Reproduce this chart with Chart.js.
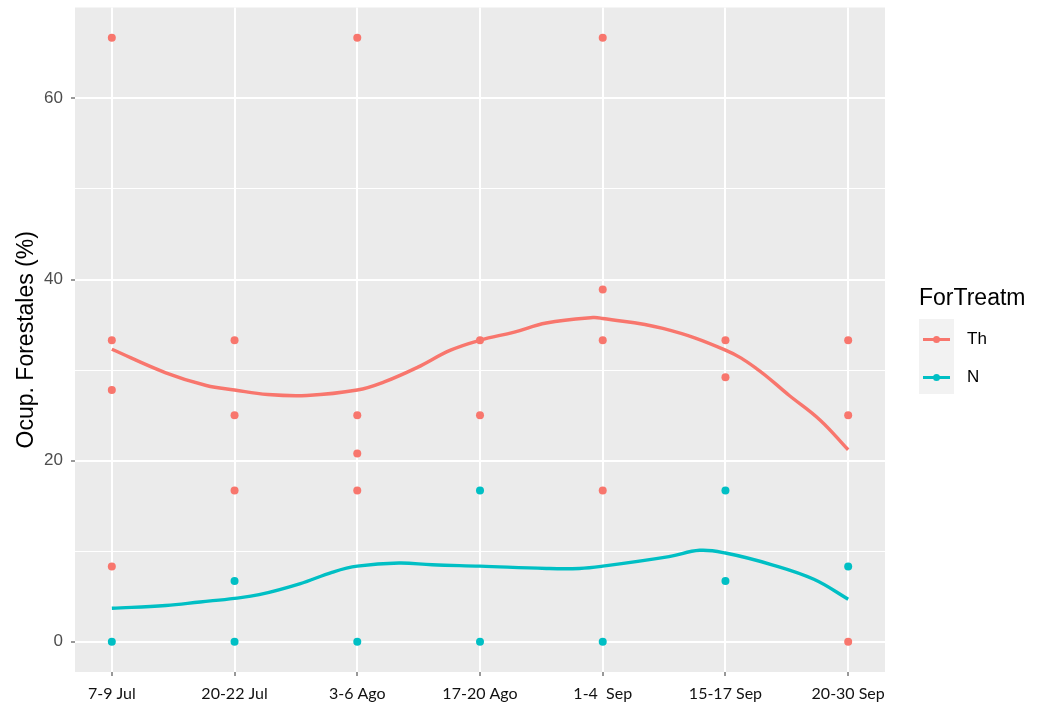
<!DOCTYPE html>
<html>
<head>
<meta charset="utf-8">
<script src="https://cdn.jsdelivr.net/npm/chart.js@4.4.0/dist/chart.umd.min.js"></script>
<style>
  html, body { margin: 0; padding: 0; background: #ffffff; }
  #wrap { position: relative; width: 1042px; height: 705px; }
  #c { position: absolute; left: 0; top: 0; }
  .lg { position: absolute; font-family: "Liberation Sans", Arial, sans-serif; color: #000; white-space: nowrap; }
  #lgTitle { left: 919px; top: 284px; font-size: 23px; line-height: 27px; }
  #lgBox { position: absolute; left: 919px; top: 319px; width: 35px; height: 75px; background: #F2F2F2; }
  .key { position: absolute; left: 4px; width: 27px; height: 3px; }
  .dot { position: absolute; left: 10px; width: 7px; height: 7px; border-radius: 50%; top: -2px; }
  .lab { font-size: 17px; line-height: 20px; left: 967px; }
</style>
</head>
<body>
<div id="wrap">
  <canvas id="c" width="1042" height="705"></canvas>
  <div class="lg" id="lgTitle">ForTreatm</div>
  <div id="lgBox">
    <div class="key" style="top:19px;background:#F8766D"><div class="dot" style="background:#F8766D"></div></div>
    <div class="key" style="top:57px;background:#00BFC4"><div class="dot" style="background:#00BFC4"></div></div>
  </div>
  <div class="lg lab" style="top:329px">Th</div>
  <div class="lg lab" style="top:367px">N</div>
</div>
<script>
// ---- data ----
const categories = ["7-9 Jul", "20-22 Jul", "3-6 Ago", "17-20 Ago", "1-4  Sep", "15-17 Sep", "20-30 Sep"];
const yTicks = [0, 10, 20, 30, 40, 50, 60];
const yMajor = [0, 20, 40, 60];

// observed points: [category index (1-based), value]
const thPoints = [
  [1, 66.7], [1, 33.3], [1, 27.8], [1, 8.3],
  [2, 33.3], [2, 25.0], [2, 16.7],
  [3, 66.7], [3, 25.0], [3, 20.8], [3, 16.7],
  [4, 33.3], [4, 25.0],
  [5, 66.7], [5, 38.9], [5, 33.3], [5, 16.7],
  [6, 33.3], [6, 29.2],
  [7, 33.3], [7, 25.0], [7, 0]
];
const nPoints = [
  [1, 0],
  [2, 6.7], [2, 0],
  [3, 0],
  [4, 16.7], [4, 0],
  [5, 0],
  [6, 16.7], [6, 6.7],
  [7, 8.3]
];

// smoothed trend: [position, value]
const thSmooth = [
  [1, 32.3], [1.44, 29.7], [1.77, 28.3], [2, 27.8], [2.27, 27.3], [2.59, 27.2],
  [3, 27.8], [3.22, 28.7], [3.49, 30.3], [3.76, 32.2], [4, 33.3], [4.28, 34.2],
  [4.54, 35.2], [4.92, 35.8], [5, 35.7], [5.49, 34.6], [6, 32.2], [6.25, 30.2],
  [6.52, 27.2], [6.77, 24.5], [7, 21.2]
];
const nSmooth = [
  [1, 3.7], [1.44, 4.0], [1.72, 4.4], [2, 4.8], [2.2, 5.2], [2.53, 6.4], [2.8, 7.7],
  [3, 8.35], [3.34, 8.7], [3.61, 8.5], [4, 8.35], [4.54, 8.1], [4.81, 8.1], [5, 8.35],
  [5.54, 9.4], [5.79, 10.1], [6, 9.8], [6.38, 8.5], [6.72, 6.9], [7, 4.7]
];

const TH = "#F8766D", NC = "#00BFC4";
const toXY = a => a.map(p => ({ x: p[0], y: p[1] }));

const panelBg = {
  id: "panelBg",
  beforeDraw(chart) {
    const { ctx, chartArea: a } = chart;
    ctx.save();
    ctx.fillStyle = "#EBEBEB";
    ctx.fillRect(a.left, a.top, a.right - a.left, a.bottom - a.top);
    ctx.restore();
  }
};

new Chart(document.getElementById("c"), {
  data: {
    datasets: [
      { type: "line", data: toXY(thSmooth), borderColor: TH, borderWidth: 3.4, pointRadius: 0, tension: 0.4, fill: false, order: 0 },
      { type: "line", data: toXY(nSmooth), borderColor: NC, borderWidth: 3.4, pointRadius: 0, tension: 0.4, fill: false, order: 0 },
      { type: "scatter", data: toXY(thPoints), backgroundColor: TH, borderColor: TH, borderWidth: 0, pointRadius: 4, order: 1 },
      { type: "scatter", data: toXY(nPoints), backgroundColor: NC, borderColor: NC, borderWidth: 0, pointRadius: 4, order: 1 }
    ]
  },
  options: {
    responsive: false,
    animation: false,
    events: [],
    layout: { padding: { top: 7.5, right: 157, left: 0, bottom: 0 } },
    plugins: { legend: { display: false }, tooltip: { enabled: false } },
    scales: {
      x: {
        type: "linear",
        min: 0.7, max: 7.3,
        afterBuildTicks: s => { s.ticks = categories.map((c, i) => ({ value: i + 1 })); },
        afterFit: s => { s.height = 33; s.paddingLeft = 0; s.paddingRight = 0; },
        border: { display: false },
        grid: { color: "#FFFFFF", lineWidth: 2, drawTicks: true, tickLength: 4, tickColor: "#333333", tickWidth: 1 },
        ticks: {
          autoSkip: false, maxRotation: 0, padding: 8,
          color: "#111111",
          font: { family: "Lato, 'Open Sans', sans-serif", size: 16 },
          callback: v => categories[Math.round(v) - 1]
        }
      },
      y: {
        type: "linear",
        min: -3.335, max: 70.035,
        afterBuildTicks: s => { s.ticks = yTicks.map(v => ({ value: v })); },
        afterFit: s => { s.width = 75; s.paddingTop = 0; s.paddingBottom = 0; },
        border: { display: false },
        grid: {
          color: "#FFFFFF",
          lineWidth: c => yMajor.includes(c.tick && c.tick.value) ? 2 : 1,
          drawTicks: true, tickLength: 4,
          tickColor: c => yMajor.includes(c.tick && c.tick.value) ? "#333333" : "rgba(0,0,0,0)",
          tickWidth: 1
        },
        ticks: {
          autoSkip: false, padding: 8,
          color: "#4D4D4D",
          font: { family: "'Liberation Sans', Arial, sans-serif", size: 17 },
          callback: v => yMajor.includes(v) ? String(v) : ""
        },
        title: {
          display: true, text: "Ocup. Forestales (%)",
          color: "#000000",
          font: { family: "'Liberation Sans', Arial, sans-serif", size: 23 },
          padding: { top: 13, bottom: 0 }
        }
      }
    }
  },
  plugins: [panelBg]
});
</script>
</body>
</html>
